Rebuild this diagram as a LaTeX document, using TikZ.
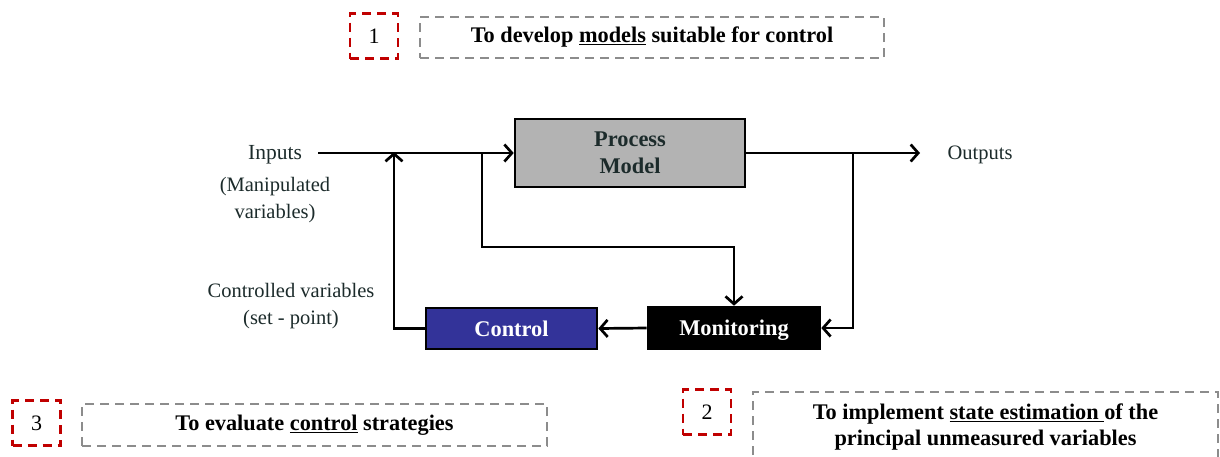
\documentclass[tikz,border=0pt]{standalone}
\usepackage{fontspec}
\setmainfont{Liberation Serif}
\usetikzlibrary{arrows.meta}
\definecolor{pmgray}{HTML}{B3B3B3}
\definecolor{pmtext}{HTML}{1C2B2B}
\definecolor{ctlblue}{HTML}{333399}
\definecolor{dashgray}{HTML}{8C8C8C}
\definecolor{dashred}{HTML}{C00000}
\tikzset{
  arr/.style={line width=2.7pt,-{Straight Barb[length=7.5pt,width=17pt,line width=2.7pt]}},
  blockbox/.style={draw=black,line width=2.6pt,inner sep=0pt,font=\fontsize{22.4}{27}\selectfont\bfseries,align=center},
  lbl/.style={font=\fontsize{20.5}{27}\selectfont,align=center,inner sep=0pt,text=pmtext},
  numbox/.style={draw=dashred,line width=2.6pt,dash pattern=on 9pt off 6pt,minimum width=48pt,minimum height=45pt,inner sep=0pt,font=\fontsize{22}{26}\selectfont},
  goalbox/.style={draw=dashgray,line width=2.6pt,dash pattern=on 9pt off 6pt,inner sep=0pt,font=\fontsize{22.3}{26}\selectfont\bfseries,align=center},
}
\begin{document}
\begin{tikzpicture}[x=1pt,y=-1pt]
\clip (0,0) rectangle (1220,456);
\fill[white] (0,0) rectangle (1220,456);
% goal boxes
\node[numbox] (n1) at (374,36) {1};
\node[goalbox,minimum width=464pt,minimum height=41pt] (g1) at (652,37.5) {To develop \underline{models} suitable for control};
\node[numbox] (n3) at (36.5,423) {3};
\node[goalbox,minimum width=465pt,minimum height=42pt] (g3) at (314.5,425) {To evaluate \underline{control} strategies};
\node[numbox] (n2) at (707,412) {2};
\draw[dashgray,line width=2.6pt,dash pattern=on 9pt off 6pt] (753,500) -- (753,392) -- (1218,392) -- (1218,500);
\node[font=\fontsize{22.3}{26}\selectfont\bfseries,align=center,inner sep=0pt] (g2) at (985.5,427) {To implement \underline{state estimation\ }of the\\principal unmeasured variables};
% blocks
\node[blockbox,fill=pmgray,text=pmtext,minimum width=230pt,minimum height=68pt] (pm) at (630,153) {Process\\Model};
\node[blockbox,fill=black,text=white,minimum width=172pt,minimum height=42pt,text depth=0pt] (mon) at (734,328) {Monitoring};
\node[blockbox,fill=ctlblue,text=white,minimum width=171pt,minimum height=41pt] (ctl) at (511.5,328.5) {Control};
% labels
\node[lbl,font=\fontsize{21.5}{27}\selectfont] (inp) at (275,155) {Inputs};
\node[lbl] (manip) at (275,200) {(Manipulated\\variables)};
\node[lbl] (outp) at (980,155) {Outputs};
\node[lbl] (cv) at (291,306) {Controlled variables\\(set - point)};
% coordinates
\coordinate (inL) at (318,153);
\coordinate (outR) at (920,153);
\coordinate (b1) at (482,153);
\coordinate (b2) at (482,247);
\coordinate (b3) at (853,153);
\coordinate (fb) at (394,152);
% connectors
\draw[arr] (inL) -- (pm.west);
\draw[arr] (pm.east) -- (outR);
\draw[arr] (b1) -- (b2) -| (mon.north);
\draw[arr] (b3) |- (mon.east);
\draw[arr] (mon.west) -- (ctl.east);
\draw[arr] (ctl.west) -| (fb);
\end{tikzpicture}
\end{document}
